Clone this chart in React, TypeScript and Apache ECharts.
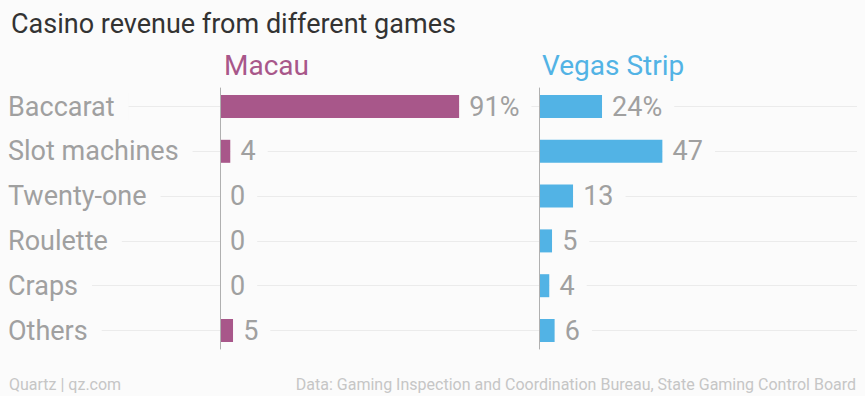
import React, { useEffect, useRef } from "react";
import * as echarts from "echarts";

const categories = ["Baccarat", "Slot machines", "Twenty-one", "Roulette", "Craps", "Others"];
const macauValues = [91, 4, 0, 0, 0, 5];
const vegasValues = [24, 47, 13, 5, 4, 6];
const panelNames = ["Macau", "Vegas Strip"];
const titleText = "Casino revenue from different games";
const sourceLeft = "Quartz | qz.com";
const sourceRight = "Data: Gaming Inspection and Coordination Bureau, State Gaming Control Board";

const BG = "#fbfbfb";
const MACAU = "#a8578a";
const VEGAS = "#52b3e5";
const GREY = "#a0a0a0";
const FONT = "Roboto, 'Open Sans', sans-serif";

export default function App() {
  const ref = useRef<HTMLDivElement>(null);

  useEffect(() => {
    document.body.style.margin = "0";
    document.body.style.background = BG;
    const chart = echarts.init(ref.current!, null, { renderer: "svg" });

    const rowTop = 106.5;
    const rowStep = 44.8;
    const n = categories.length;
    const barTop = rowTop - rowStep / 2;
    const barHeight = rowStep * n;
    const panelLeft = [220, 539];
    const panelWidth = 263;

    const labelFmt = (p: any) => (p.dataIndex === 0 ? p.value + "%" : String(p.value));

    const barSeries = (idx: number, data: number[], color: string) => ({
      type: "bar",
      xAxisIndex: idx,
      yAxisIndex: idx,
      data,
      barWidth: 23,
      itemStyle: { color },
      z: 3,
      label: {
        show: true,
        position: "right",
        distance: 0,
        formatter: labelFmt,
        color: GREY,
        fontSize: 27,
        fontFamily: FONT,
        backgroundColor: BG,
        padding: [0, 12, 0, 10],
      },
    });

    chart.setOption({
      animation: false,
      backgroundColor: BG,
      textStyle: { fontFamily: FONT },
      title: [
        {
          text: titleText,
          left: 6,
          top: 5,
          textStyle: { fontSize: 27, fontWeight: "normal", color: "#333", fontFamily: FONT },
        },
        {
          text: panelNames[0],
          left: panelLeft[0] - 1,
          top: 46,
          textStyle: { fontSize: 28, fontWeight: "normal", color: MACAU, fontFamily: FONT },
        },
        {
          text: panelNames[1],
          left: panelLeft[1] - 2,
          top: 46,
          textStyle: { fontSize: 28, fontWeight: "normal", color: VEGAS, fontFamily: FONT },
        },
        {
          text: sourceLeft,
          left: 4,
          top: 371,
          textStyle: { fontSize: 16, fontWeight: "normal", color: "#c6c6c6", fontFamily: FONT },
        },
        {
          text: sourceRight,
          right: 4,
          top: 371,
          textStyle: { fontSize: 16, fontWeight: "normal", color: "#c6c6c6", fontFamily: FONT },
        },
      ],
      grid: [
        { left: 8, right: 8, top: rowTop, height: rowStep * (n - 1) },
        { left: panelLeft[0], width: panelWidth, top: barTop, height: barHeight },
        { left: panelLeft[1], width: panelWidth, top: barTop, height: barHeight },
        { left: panelLeft[0], width: panelWidth, top: 88, height: 261 },
        { left: panelLeft[1], width: panelWidth, top: 88, height: 261 },
      ],
      xAxis: [0, 1, 2, 3, 4].map((i) => ({
        type: "value",
        gridIndex: i,
        min: 0,
        max: i === 1 || i === 2 ? 100 : 1,
        show: false,
      })),
      yAxis: [
        {
          type: "category",
          gridIndex: 0,
          data: categories,
          inverse: true,
          boundaryGap: false,
          axisLine: { show: false },
          axisTick: { show: false },
          axisLabel: {
            inside: true,
            margin: 0,
            interval: 0,
            color: GREY,
            fontSize: 27,
            fontFamily: FONT,
            backgroundColor: BG,
            padding: [0, 14, 0, 0],
          },
          splitLine: { show: true, interval: 0, lineStyle: { color: "#ebebeb", width: 1 } },
        },
        { type: "category", gridIndex: 1, data: categories, inverse: true, show: false },
        { type: "category", gridIndex: 2, data: categories, inverse: true, show: false },
        {
          type: "category",
          gridIndex: 3,
          data: categories,
          inverse: true,
          axisLine: { show: true, lineStyle: { color: "#b0b0b0", width: 1 } },
          axisTick: { show: false },
          axisLabel: { show: false },
          splitLine: { show: false },
          z: 4,
        },
        {
          type: "category",
          gridIndex: 4,
          data: categories,
          inverse: true,
          axisLine: { show: true, lineStyle: { color: "#b0b0b0", width: 1 } },
          axisTick: { show: false },
          axisLabel: { show: false },
          splitLine: { show: false },
          z: 4,
        },
      ],
      series: [barSeries(1, macauValues, MACAU), barSeries(2, vegasValues, VEGAS)],
    });

    return () => chart.dispose();
  }, []);

  return <div ref={ref} style={{ width: 865, height: 396 }} />;
}
